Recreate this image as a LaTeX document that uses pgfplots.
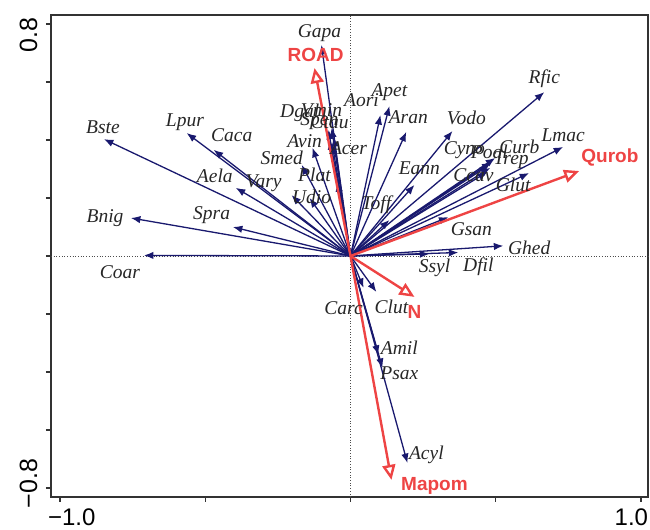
\documentclass[border=0pt]{standalone}
\usepackage{pgfplots}
\pgfplotsset{compat=1.18}
\usepackage{pgfplotstable}
\usepackage{fontspec}
\setmainfont{Liberation Serif}
\setsansfont{Liberation Sans}
\usetikzlibrary{arrows.meta,calc}

\definecolor{spec}{RGB}{25,25,110}
\definecolor{envred}{RGB}{238,68,68}

% species scores: arrow tip (x,y) and label position (lx,ly)
\pgfplotstableread{
name  x       y       lx      ly
Gapa  -0.100  0.728   -0.107  0.769
Aori   0.103  0.486    0.038  0.537
Apet   0.134  0.517    0.134  0.565
Aran   0.192  0.428    0.199  0.479
Vodo   0.351  0.431    0.399  0.476
Dgal  -0.076  0.435   -0.175  0.493
Vmin  -0.065  0.442   -0.100  0.503
Spen  -0.072  0.400   -0.107  0.465
Ctau  -0.058  0.410   -0.072  0.462
Avin  -0.131  0.373   -0.158  0.396
Acer  -0.062  0.383   -0.007  0.373
Smed  -0.168  0.314   -0.237  0.338
Plat  -0.045  0.255   -0.124  0.279
Vary  -0.203  0.210   -0.299  0.251
Udio  -0.141  0.200   -0.134  0.203
Bste  -0.849  0.403   -0.852  0.445
Lpur  -0.564  0.424   -0.570  0.462
Caca  -0.471  0.366   -0.409  0.417
Aela  -0.395  0.235   -0.467  0.276
Spra  -0.405  0.100   -0.478  0.141
Bnig  -0.756  0.131   -0.845  0.131
Coar  -0.711  0.002   -0.794 -0.055
Rfic   0.667  0.565    0.667  0.613
Lmac   0.732  0.376    0.732  0.417
Cyno   0.478  0.314    0.392  0.366
Poal   0.485  0.324    0.478  0.359
Curb   0.498  0.338    0.581  0.376
Trep   0.481  0.304    0.553  0.331
Ccav   0.471  0.290    0.423  0.279
Glut   0.615  0.286    0.560  0.245
Eann   0.220  0.245    0.237  0.304
Toff   0.134  0.124    0.089  0.176
Gsan   0.337  0.134    0.416  0.093
Ghed   0.526  0.035    0.615  0.028
Ssyl   0.271  0.007    0.289 -0.041
Dfil   0.371  0.012    0.440 -0.037
Carc   0.045 -0.110   -0.024 -0.179
Clut   0.089 -0.124    0.141 -0.175
Amil   0.096 -0.341    0.168 -0.317
Psax   0.110 -0.386    0.168 -0.403
Acyl   0.196 -0.714    0.261 -0.686
}\species

% environmental variables
\pgfplotstableread{
name   x       y       lx      ly
ROAD  -0.124   0.648  -0.120   0.693
Qurob  0.787   0.293   0.893   0.341
N      0.220  -0.141   0.220  -0.193
Mapom  0.141  -0.772   0.289  -0.793
}\envvars

\begin{document}
\begin{tikzpicture}
\begin{axis}[name=ax,
  width=597pt, height=482pt, scale only axis,
  xmin=-1.031, xmax=1.024, ymin=-0.831, ymax=0.831,
  axis line style={line width=1.2pt, black!80},
  tick style={line width=1.1pt, black!80},
  tick align=outside, major tick length=5pt,
  xtick pos=bottom, ytick pos=left,
  xtick={-1,-0.5,0,0.5,1},
  xticklabels={\makebox[0pt][l]{\kern-12pt −1.0},,,,\makebox[0pt][r]{1.0\kern-7pt}},
  ytick={-0.8,-0.6,-0.4,-0.2,0,0.2,0.4,0.6,0.8},
  yticklabels={\makebox[0pt][l]{\kern-20pt −0.8},,,,,,,,\makebox[0pt][r]{0.8\kern-6pt}},
  yticklabel style={rotate=90, anchor=south},
  xticklabel shift=3pt, yticklabel shift=5pt,
  xticklabel style={font=\sffamily\fontsize{24}{24}\selectfont},
  yticklabel style={font=\sffamily\fontsize{25}{25}\selectfont},
  clip=false]

  % zero lines
  \addplot[dotted, black!70, line width=0.7pt] coordinates {(-1.031,0) (1.024,0)};
  \addplot[dotted, black!70, line width=0.7pt] coordinates {(0,-0.831) (0,0.831)};

  % species arrows
  \addplot[spec, line width=1.3pt, -{Latex[length=9.5pt,width=7.5pt]},
    quiver={u=\thisrow{x}, v=\thisrow{y}}]
    table[x expr=0, y expr=0] {\species};

  % environmental arrows
  \addplot[envred, line width=2.4pt, -{Triangle[open,length=15pt,width=13pt]},
    quiver={u=\thisrow{x}, v=\thisrow{y}}]
    table[x expr=0, y expr=0] {\envvars};

  % species labels
  \addplot[draw=none, mark=none, nodes near coords, point meta=explicit symbolic,
    every node near coord/.append style={anchor=center, inner sep=0pt,
      font=\itshape\fontsize{19.5}{20}\selectfont, text=black!85}]
    table[x=lx, y=ly, meta=name] {\species};

  % environmental labels
  \addplot[draw=none, mark=none, nodes near coords, point meta=explicit symbolic,
    every node near coord/.append style={anchor=center, inner sep=0pt,
      font=\sffamily\bfseries\fontsize{19}{20}\selectfont, text=envred}]
    table[x=lx, y=ly, meta=name] {\envvars};
\end{axis}
\pgfresetboundingbox
\path[use as bounding box] ($(ax.south west)+(-51pt,-33pt)$) rectangle ($(ax.north east)+(2pt,15pt)$);
\end{tikzpicture}
\end{document}
